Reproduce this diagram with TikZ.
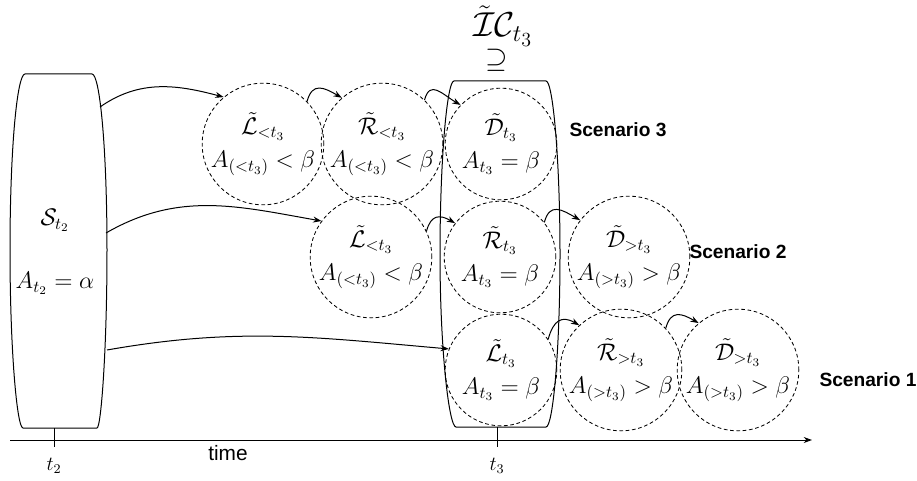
\documentclass[tikz,border=0pt]{standalone}
\usepackage{fontspec}
\newfontfamily\arialfont{Liberation Sans}
\usetikzlibrary{arrows.meta}

\begin{document}
\begin{tikzpicture}[x=0.6pt, y=0.6pt,
  line width=0.6pt,
  arr/.style={-{Stealth[length=5pt,width=3.6pt]}},
  state/.style={circle, draw, dashed, dash pattern=on 2.2pt off 1.6pt, line width=0.5pt,
    minimum size=67pt, inner sep=0pt, align=center, font=\Large},
  hop/.style={arr, out=75, in=150, looseness=1.5},
  scen/.style={anchor=west, inner sep=0pt, font=\arialfont\bfseries\fontsize{11.5}{13}\selectfont},
  tick/.style={font=\large}
]
\useasboundingbox (0,0) rectangle (917,480);

% barrel-shaped frame of the starting state
\draw (25,406) -- (92,406) .. controls (100,406) and (107,330) .. (107,230)
      .. controls (107,130) and (101,52) .. (97,52) -- (23,52)
      .. controls (17,52) and (10,130) .. (10,230)
      .. controls (10,330) and (17,406) .. (25,406) -- cycle;
\node[align=center, font=\Large] (st2) at (55,228) {$\mathcal{S}_{t_2}$\\[20pt]$A_{t_2}=\alpha$};

% barrel-shaped frame grouping the states at t3
\draw (454,399) -- (546,399) .. controls (553,399) and (560,320) .. (560,226)
      .. controls (560,130) and (553,53) .. (546,53) -- (456,53)
      .. controls (449,53) and (440,130) .. (440,226)
      .. controls (440,320) and (447,399) .. (454,399) -- cycle;
\node[font=\huge, inner sep=0pt] (ic) at (503,454) {$\tilde{\mathcal{I}}\mathcal{C}_{t_3}$};
\node[font=\LARGE, inner sep=0pt] (sup) at (497,420) {$\supseteq$};

% scenario 3
\node[state] (l3) at (263,336) {$\tilde{\mathcal{L}}_{<t_3}$\\[2pt]$A_{(<t_3)}<\beta$};
\node[state] (r3) at (382,336) {$\tilde{\mathcal{R}}_{<t_3}$\\[2pt]$A_{(<t_3)}<\beta$};
\node[state] (d3) at (501,336) {$\tilde{\mathcal{D}}_{t_3}$\\[2pt]$A_{t_3}=\beta$};

% scenario 2
\node[state] (l2) at (371,223) {$\tilde{\mathcal{L}}_{<t_3}$\\[2pt]$A_{(<t_3)}<\beta$};
\node[state] (r2) at (500,223) {$\tilde{\mathcal{R}}_{t_3}$\\[2pt]$A_{t_3}=\beta$};
\node[state] (d2) at (629,223) {$\tilde{\mathcal{D}}_{>t_3}$\\[2pt]$A_{(>t_3)}>\beta$};

% scenario 1
\node[state] (l1) at (501,110) {$\tilde{\mathcal{L}}_{t_3}$\\[2pt]$A_{t_3}=\beta$};
\node[state] (r1) at (621,110) {$\tilde{\mathcal{R}}_{>t_3}$\\[2pt]$A_{(>t_3)}>\beta$};
\node[state] (d1) at (738,110) {$\tilde{\mathcal{D}}_{>t_3}$\\[2pt]$A_{(>t_3)}>\beta$};

\node[scen] (sc3) at (569,350) {Scenario 3};
\node[scen] (sc2) at (689,228) {Scenario 2};
\node[scen] (sc1) at (819,100) {Scenario 1};

% departure points on the starting frame
\coordinate (s1) at (100,373);
\coordinate (s2) at (106,247);
\coordinate (s3) at (107,130);

\draw[arr] (s1) to[out=35, in=165] (l3.130);
\draw[arr] (s2) to[out=30, in=170] (l2.144);
\draw[arr] (s3) to[out=10, in=175] (l1.158);

\draw[hop] (l3.44) to (r3.131);
\draw[hop] (r3.46) to (d3.136);
\draw[hop] (l2.25) to (r2.143);
\draw[hop] (r2.38) to (d2.143);
\draw[hop] (l1.33) to (r1.133);
\draw[hop] (r1.43) to (d1.130);

% time axis
\coordinate (ax0) at (10,40);
\coordinate (ax1) at (812,40);
\draw[arr] (ax0) -- (ax1);
\coordinate (k2a) at (54,52);
\coordinate (k2b) at (54,33);
\coordinate (k3a) at (497,53);
\coordinate (k3b) at (497,33);
\draw (k2a) -- (k2b);
\draw (k3a) -- (k3b);
\node[tick] (t2) at (54,14) {$t_2$};
\node[tick] (t3) at (497,14) {$t_3$};
\node[font=\arialfont\fontsize{12.5}{14}\selectfont] (time) at (228,27) {time};
\end{tikzpicture}
\end{document}
